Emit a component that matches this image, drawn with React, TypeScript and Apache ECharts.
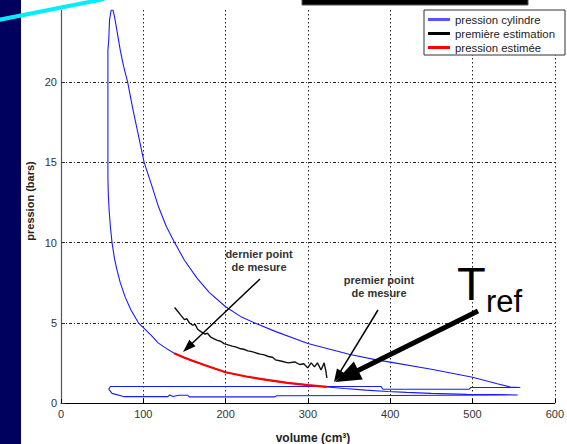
import React, { useEffect, useRef } from "react";
import * as echarts from "echarts";

// ---- data (volume cm3, pression bars) ----
const cylVolume = [
  76, 130, 132, 136, 143, 154, 156, 260, 262, 400, 555,
  530, 493, 450, 420, 397, 370, 345, 323,
  300, 275, 250, 225, 200, 175, 160, 150, 137.5,
  125, 118, 110, 100, 94, 85, 78, 72, 68, 65, 62, 60, 58.5, 57.5,
  57, 57, 57, 58, 59, 61, 63, 65, 68, 72, 76, 81, 87, 94, 101, 110, 118, 128, 138,
  150, 165, 180, 200, 218, 237, 261, 300, 350, 383, 400, 450, 500, 530, 546, 558,
  540, 498, 496, 391, 389, 323, 200, 100, 60, 58, 62, 76,
];
const cylPression = [
  0.4, 0.4, 0.5, 0.4, 0.48, 0.48, 0.38, 0.38, 0.45, 0.47, 0.5,
  0.52, 0.55, 0.6, 0.66, 0.72, 0.8, 0.9, 1.0,
  1.12, 1.26, 1.44, 1.65, 1.92, 2.35, 2.6, 2.82, 3.1,
  3.5, 3.75, 4.2, 4.7, 5.0, 5.8, 6.6, 7.5, 8.3, 9.0, 10.0, 11.0, 12.0, 13.0,
  14.0, 18.0, 22.0, 22.6, 23.9, 24.5, 24.5, 24.1, 23.2, 22.0, 21.0, 20.0, 18.4, 16.7, 15.0, 13.6, 12.3, 11.0, 10.0,
  8.9, 7.8, 6.9, 6.0, 5.4, 4.95, 4.45, 3.71, 3.04, 2.69, 2.55, 2.1, 1.6, 1.2, 1.0, 0.97,
  0.97, 0.97, 0.86, 0.86, 1.03, 1.03, 1.03, 1.03, 1.03, 0.87, 0.6, 0.4,
];

const estVolume = [
  138, 142, 146, 150, 153, 156, 160, 163, 166, 170, 175, 178, 182, 186, 190, 194, 198,
  203, 208, 212, 217, 222, 227, 232, 237, 242, 247, 252, 257, 260.5, 267, 276, 284,
  290, 295, 299.7, 304, 308, 311.6, 316, 319.7, 322, 323,
];
const estPression = [
  5.95, 5.7, 5.45, 5.2, 5.25, 5.0, 4.85, 4.9, 4.6, 4.45, 4.3, 4.35, 4.1, 4.0, 3.9, 3.85, 3.7,
  3.62, 3.55, 3.5, 3.4, 3.35, 3.25, 3.2, 3.12, 3.05, 3.0, 2.9, 2.85, 2.69, 2.62, 2.5, 2.56,
  2.4, 2.45, 2.19, 2.5, 2.25, 2.5, 2.06, 2.5, 1.94, 1.56,
];

const redVolume = [137.5, 150, 175, 200, 225, 250, 275, 300, 323];
const redPression = [3.1, 2.82, 2.35, 1.92, 1.65, 1.44, 1.26, 1.12, 1.0];

const xTicks = [0, 100, 200, 300, 400, 500, 600];
const yTicks = [0, 5, 10, 15, 20];

const seriesNames = ["pression cylindre", "première estimation", "pression estimée"];

function zip(a: number[], b: number[]) {
  return a.map((v, i) => [v, b[i]]);
}

function arrow(x1: number, y1: number, x2: number, y2: number, lw: number, hl: number, hw: number) {
  const dx = x2 - x1;
  const dy = y2 - y1;
  const len = Math.sqrt(dx * dx + dy * dy);
  const ux = dx / len;
  const uy = dy / len;
  const bx = x2 - ux * hl;
  const by = y2 - uy * hl;
  const px = -uy;
  const py = ux;
  return [
    {
      type: "line",
      shape: { x1, y1, x2: bx + ux * 2, y2: by + uy * 2 },
      style: { stroke: "#000", lineWidth: lw },
      z: 100,
    },
    {
      type: "polygon",
      shape: {
        points: [
          [x2, y2],
          [bx + (px * hw) / 2, by + (py * hw) / 2],
          [bx - (px * hw) / 2, by - (py * hw) / 2],
        ],
      },
      style: { fill: "#000" },
      z: 100,
    },
  ];
}

export default function App() {
  const ref = useRef<HTMLDivElement>(null);
  useEffect(() => {
    if (!ref.current) return;
    const chart = echarts.init(ref.current, null, { renderer: "svg" });
    const font = "Liberation Sans, Arial, sans-serif";
    chart.setOption({
      animation: false,
      backgroundColor: "#ffffff",
      textStyle: { fontFamily: font },
      grid: { left: 61, right: 2, top: 10, bottom: 41, containLabel: false },
      legend: {
        data: [
          { name: seriesNames[0], itemStyle: { color: "#5555ff" } },
          { name: seriesNames[1], itemStyle: { color: "#000" } },
          { name: seriesNames[2], itemStyle: { color: "#ff0000" } },
        ],
        orient: "vertical",
        left: 424,
        top: 10,
        icon: "rect",
        itemWidth: 22,
        itemHeight: 3,
        itemGap: 3,
        padding: [4, 8, 2, 4],
        backgroundColor: "#ffffff",
        borderColor: "#333",
        borderWidth: 1,
        borderRadius: 0,
        textStyle: { fontSize: 11.4, color: "#222", fontFamily: font, lineHeight: 10, width: 102, overflow: "none" },
        z: 50,
      },
      xAxis: {
        type: "value",
        min: xTicks[0],
        max: xTicks[xTicks.length - 1],
        interval: 100,
        axisLine: { show: true, onZero: false, lineStyle: { color: "#000", width: 1 } },
        axisTick: { show: true, inside: true, length: 4, lineStyle: { color: "#000" } },
        axisLabel: { fontSize: 11, color: "#333", margin: 5, fontFamily: font },
        splitLine: { show: true, lineStyle: { color: "#222", width: 1, type: [1.5, 2.5] } },
      },
      yAxis: {
        type: "value",
        min: yTicks[0],
        max: 24.5,
        interval: 5,
        axisLine: { show: true, onZero: false, lineStyle: { color: "#555", width: 1.2 } },
        axisTick: { show: true, inside: true, length: 4, lineStyle: { color: "#333" } },
        axisLabel: { fontSize: 11, color: "#333", margin: 4, showMaxLabel: false, fontFamily: font },
        splitLine: { show: true, showMaxLine: false, lineStyle: { color: "#222", width: 1, type: [3, 2, 1, 2] } },
      },
      series: [
        {
          name: seriesNames[0],
          type: "line",
          data: zip(cylVolume, cylPression),
          showSymbol: false,
          lineStyle: { color: "#1a1aff", width: 1.1 },
          itemStyle: { color: "#5555ff" },
          z: 3,
        },
        {
          name: seriesNames[2],
          type: "line",
          data: zip(redVolume, redPression),
          showSymbol: false,
          lineStyle: { color: "#ff0000", width: 2.2 },
          itemStyle: { color: "#ff0000" },
          z: 4,
        },
        {
          name: seriesNames[1],
          type: "line",
          data: zip(estVolume, estPression),
          showSymbol: false,
          lineStyle: { color: "#111", width: 1.4 },
          itemStyle: { color: "#000" },
          z: 5,
        },
      ],
      graphic: [
        { type: "rect", shape: { x: 0, y: 0, width: 21, height: 444 }, style: { fill: "#00005e" }, z: 100 },
        { type: "line", shape: { x1: -2, y1: 20, x2: 104, y2: -1 }, style: { stroke: "#00eeff", lineWidth: 4 }, z: 101 },
        { type: "rect", shape: { x: 302, y: -3, width: 226, height: 8 }, style: { fill: "#000", stroke: "#555", lineWidth: 1 }, z: 100 },
        {
          type: "text",
          x: 30,
          y: 201,
          rotation: Math.PI / 2,
          style: { text: "pression (bars)", fill: "#222", font: `bold 11px ${font}`, align: "center", verticalAlign: "middle" },
          z: 100,
        },
        {
          type: "text",
          x: 313,
          y: 438,
          style: { text: "volume (cm³)", fill: "#222", font: `bold 12px ${font}`, align: "center", verticalAlign: "middle" },
          z: 100,
        },
        {
          type: "text",
          x: 259,
          y: 260,
          style: { text: "dernier point\nde mesure", fill: "#333", font: `bold 11px ${font}`, align: "center", verticalAlign: "middle", lineHeight: 13 },
          z: 100,
        },
        {
          type: "text",
          x: 379,
          y: 286,
          style: { text: "premier point\nde mesure", fill: "#333", font: `bold 11px ${font}`, align: "center", verticalAlign: "middle", lineHeight: 13 },
          z: 100,
        },
        {
          type: "text",
          x: 457,
          y: 260,
          style: { text: "T", fill: "#000", font: `47px ${font}`, align: "left", verticalAlign: "top" },
          z: 100,
        },
        {
          type: "text",
          x: 486,
          y: 286,
          style: { text: "ref", fill: "#000", font: `31px ${font}`, align: "left", verticalAlign: "top" },
          z: 100,
        },
        ...arrow(260, 279, 183, 352, 1.5, 13, 9),
        ...arrow(378, 310, 334, 382, 1.5, 13, 9),
        ...arrow(478, 311, 335, 382, 5, 26, 20),
      ],
    });
    return () => chart.dispose();
  }, []);
  return <div ref={ref} style={{ position: "absolute", left: 0, top: 0, width: 567, height: 444 }} />;
}
